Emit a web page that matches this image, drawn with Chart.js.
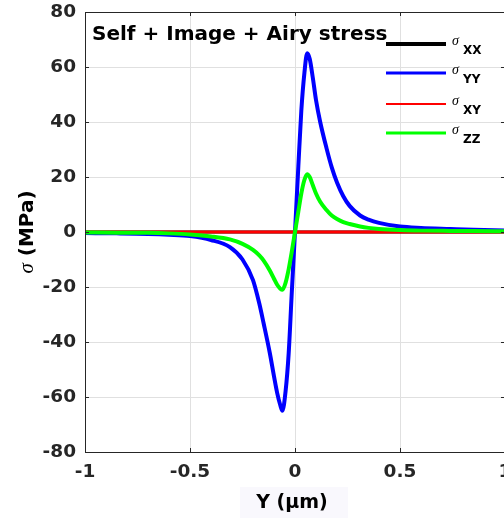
<!DOCTYPE html>
<html>
<head>
<meta charset="utf-8">
<script src="https://cdn.jsdelivr.net/npm/chart.js@4.4.1/dist/chart.umd.min.js"></script>
<style>
  html, body { margin: 0; padding: 0; background: #fff; overflow: hidden; }
  #wrap { width: 530px; height: 518px; position: relative; }
</style>
</head>
<body>
<div id="wrap"><canvas id="stressChart"></canvas></div>
<script>
// Y position along the line (µm)
const yPos = [-1, -0.85, -0.7, -0.6, -0.5, -0.4, -0.31, -0.25, -0.2, -0.17, -0.15, -0.12, -0.1, -0.085,
  -0.07, -0.06, -0.045, -0.03, -0.016, 0, 0.016, 0.03, 0.045, 0.058, 0.07, 0.085, 0.1, 0.12, 0.15,
  0.175, 0.2, 0.23, 0.26, 0.31, 0.35, 0.4, 0.5, 0.6, 0.74, 0.85, 1];

// stress components (MPa)
const sigmaXX = [0, 0, 0, 0, 0, 0, 0, 0, 0, 0, 0, 0, 0, 0, 0, 0, 0, 0, 0, 0, 0,
  0, 0, 0, 0, 0, 0, 0, 0, 0, 0, 0, 0, 0, 0, 0, 0, 0, 0, 0, 0];
const sigmaYY = [-0.4, -0.5, -0.7, -1.0, -1.5, -2.9, -5.5, -10, -17.5, -26, -33, -44, -52.5, -58.5,
  -63, -65, -58, -44, -23, 0, 24, 44, 58, 65, 63, 56, 48, 40, 30.5,
  23.5, 18, 13, 9.5, 6, 4.5, 3.3, 2.0, 1.5, 1.1, 0.8, 0.5];
const sigmaXY = [0, 0, 0, 0, 0, 0, 0, 0, 0, 0, 0, 0, 0, 0, 0, 0, 0, 0, 0, 0, 0,
  0, 0, 0, 0, 0, 0, 0, 0, 0, 0, 0, 0, 0, 0, 0, 0, 0, 0, 0, 0];
const sigmaZZ = [-0.2, -0.25, -0.3, -0.5, -0.9, -1.6, -2.7, -4.3, -6.5, -8.5, -10.3, -14, -17, -19.2,
  -20.6, -21, -18.5, -13.5, -7.5, 0, 7.5, 14, 19, 21, 20, 17, 14, 11, 8,
  6, 4.7, 3.6, 2.9, 2.0, 1.5, 1.1, 0.7, 0.5, 0.4, 0.35, 0.3];

const xTicks = [-1, -0.5, 0, 0.5, 1];
const yTicks = [-80, -60, -40, -20, 0, 20, 40, 60, 80];

const seriesNames = ['XX', 'YY', 'XY', 'ZZ'];
const seriesColors = ['#000000', '#0000ff', '#ff0000', '#00ff00'];

function pts(vals) {
  return yPos.map((x, i) => ({ x: x, y: vals[i] }));
}

const axisColor = '#262626';
const tickFont = { family: 'DejaVu Sans', size: 18.5, weight: 'bold' };

// extra drawing: box, inner ticks, title, legend, axis titles
const decorPlugin = {
  id: 'decor',
  beforeDraw(chart) {
    const ctx = chart.ctx;
    ctx.save();
    ctx.fillStyle = '#f9f8fd';
    ctx.fillRect(240, 487, 108, 31);
    ctx.restore();
  },
  afterDatasetsDraw(chart) {
    const ctx = chart.ctx;
    const a = chart.chartArea;
    const xs = chart.scales.x, ys = chart.scales.y;
    ctx.save();
    ctx.strokeStyle = axisColor;
    ctx.lineWidth = 1;
    ctx.beginPath();
    yTicks.forEach(v => {
      const py = Math.round(ys.getPixelForValue(v)) + 0.5;
      ctx.moveTo(a.left, py); ctx.lineTo(a.left + 4, py);
      ctx.moveTo(a.right, py); ctx.lineTo(a.right - 4, py);
    });
    xTicks.forEach(v => {
      const px = Math.round(xs.getPixelForValue(v)) + 0.5;
      ctx.moveTo(px, a.bottom); ctx.lineTo(px, a.bottom - 4);
      ctx.moveTo(px, a.top); ctx.lineTo(px, a.top + 4);
    });
    ctx.stroke();
    ctx.strokeRect(Math.round(a.left) + 0.5, Math.round(a.top) + 0.5,
      Math.round(a.right - a.left), Math.round(a.bottom - a.top));
    ctx.restore();
  },
  afterDraw(chart) {
    const ctx = chart.ctx;
    ctx.save();
    // title inside the axes
    ctx.fillStyle = '#000';
    ctx.font = 'bold 20px "DejaVu Sans"';
    ctx.textAlign = 'left';
    ctx.textBaseline = 'alphabetic';
    ctx.fillText('Self + Image + Airy stress', 92, 40);

    // legend
    const rowY = [44, 73, 104, 133];
    const lw = [4, 3, 2, 3];
    seriesNames.forEach((n, i) => {
      ctx.strokeStyle = seriesColors[i];
      ctx.lineWidth = lw[i];
      ctx.beginPath();
      ctx.moveTo(386, rowY[i]);
      ctx.lineTo(446, rowY[i]);
      ctx.stroke();
      ctx.fillStyle = '#000';
      ctx.font = 'italic 14px "Liberation Serif"';
      ctx.fillText('σ', 452, rowY[i] + 1);
      ctx.font = 'bold 12px "DejaVu Sans"';
      ctx.fillText(n, 463, rowY[i] + 10);
    });

    // x axis title
    ctx.fillStyle = '#000';
    ctx.font = 'bold 19px "DejaVu Sans"';
    ctx.textAlign = 'center';
    ctx.fillText('Y (µm)', 292, 508);

    // y axis title
    ctx.translate(33, 232);
    ctx.rotate(-Math.PI / 2);
    const sigFont = 'italic 21px "Liberation Serif"';
    const restFont = 'bold 20px "DejaVu Sans"';
    ctx.font = sigFont;
    const w1 = ctx.measureText('σ').width;
    ctx.font = restFont;
    const w2 = ctx.measureText(' (MPa)').width;
    const start = -(w1 + w2) / 2;
    ctx.textAlign = 'left';
    ctx.font = sigFont;
    ctx.fillText('σ', start, 0);
    ctx.font = restFont;
    ctx.fillText(' (MPa)', start + w1, 0);
    ctx.restore();
  }
};

const order = [4, 3, 2, 1];
const widths = [3, 4, 3, 4];
const allSeries = [sigmaXX, sigmaYY, sigmaXY, sigmaZZ];

new Chart(document.getElementById('stressChart'), {
  type: 'line',
  data: {
    datasets: allSeries.map((s, i) => ({
      label: 'σ' + seriesNames[i],
      data: pts(s),
      borderColor: seriesColors[i],
      backgroundColor: seriesColors[i],
      borderWidth: widths[i],
      pointRadius: 0,
      fill: false,
      cubicInterpolationMode: 'monotone',
      order: order[i]
    }))
  },
  options: {
    responsive: true,
    maintainAspectRatio: false,
    animation: false,
    devicePixelRatio: 1,
    layout: { padding: { top: 12, right: 25, left: 0, bottom: 0 } },
    plugins: {
      legend: { display: false },
      tooltip: { enabled: false },
      title: { display: false }
    },
    scales: {
      x: {
        type: 'linear',
        min: -1,
        max: 1,
        afterBuildTicks: function(scale) {
          scale.ticks = xTicks.map(v => ({ value: v }));
        },
        afterFit: function(scale) {
          scale.height = 66;
          scale.paddingLeft = 0;
          scale.paddingRight = 0;
        },
        grid: { color: '#e0e0e0', lineWidth: 1, drawTicks: false },
        border: { display: false },
        ticks: {
          font: tickFont,
          color: axisColor,
          padding: 9,
          maxRotation: 0,
          callback: function(v) { return String(v); }
        }
      },
      y: {
        type: 'linear',
        min: -80,
        max: 80,
        afterBuildTicks: function(scale) {
          scale.ticks = yTicks.map(v => ({ value: v }));
        },
        afterFit: function(scale) {
          scale.width = 85;
          scale.paddingTop = 0;
          scale.paddingBottom = 0;
        },
        grid: { color: '#e0e0e0', lineWidth: 1, drawTicks: false },
        border: { display: false },
        ticks: {
          font: tickFont,
          color: axisColor,
          padding: 9,
          callback: function(v) { return String(v); }
        }
      }
    }
  },
  plugins: [decorPlugin]
});
</script>
</body>
</html>
